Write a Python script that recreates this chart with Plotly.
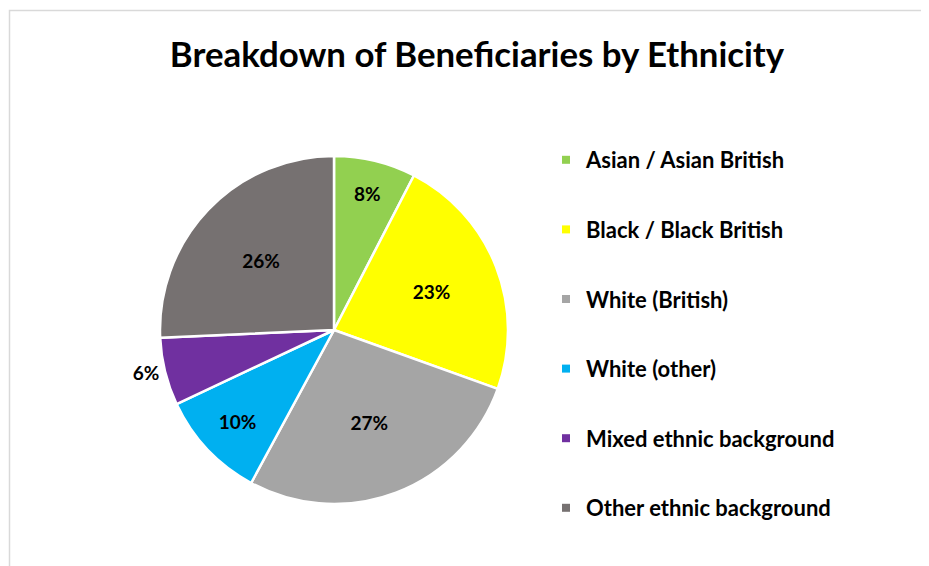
import plotly.graph_objects as go

# data
categories = [
    "Asian / Asian British",
    "Black / Black British",
    "White (British)",
    "White (other)",
    "Mixed ethnic background",
    "Other ethnic background",
]
shares = [7.6, 22.9, 27.4, 10.1, 6.3, 25.7]
colors = ["#92D050", "#FFFF00", "#A5A5A5", "#00B0F0", "#7030A0", "#767171"]
label_pos = ["inside", "inside", "inside", "inside", "outside", "inside"]

W, H = 929, 566
OFF = 8  # page body margin
FONT = "Lato"


def px(x):
    return (x - OFF) / W


def py(y):
    return 1 - (y - OFF) / H


fig = go.Figure()

fig.add_trace(go.Pie(
    labels=categories,
    values=shares,
    sort=False,
    direction="clockwise",
    rotation=0,
    marker=dict(colors=colors, line=dict(color="white", width=2.5)),
    texttemplate="%{percent:.0%}",
    textposition=label_pos,
    insidetextorientation="horizontal",
    textfont=dict(family=FONT, size=19, color="black", weight="bold"),
    domain=dict(x=[px(160), px(508)], y=[py(504), py(156)]),
    showlegend=False,
    hoverinfo="label+percent",
))

# legend entries (one group each so they can be spaced out)
for name, c in zip(categories, colors):
    fig.add_trace(go.Scatter(
        x=[None], y=[None], mode="markers", name=name, legendgroup=name,
        marker=dict(symbol="square", size=8, color=c),
    ))

fig.update_layout(
    width=W, height=H,
    margin=dict(l=0, r=0, t=0, b=0),
    paper_bgcolor="white",
    plot_bgcolor="white",
    title=dict(
        text="Breakdown of Beneficiaries by Ethnicity",
        x=px(477), y=py(55), xanchor="center", yanchor="middle",
        font=dict(family=FONT, size=34.8, color="black", weight="bold"),
    ),
    xaxis=dict(visible=False),
    yaxis=dict(visible=False),
    legend=dict(
        x=px(546), y=py(139), xanchor="left", yanchor="top",
        tracegroupgap=38,
        font=dict(family=FONT, size=22, color="black", weight="bold"),
        bgcolor="rgba(0,0,0,0)",
    ),
    shapes=[dict(
        type="rect", xref="paper", yref="paper",
        x0=px(9.5), x1=1.2, y0=-0.2, y1=py(10.5),
        line=dict(color="#D9D9D9", width=1.5),
    )],
)

fig.write_html("out.html")
